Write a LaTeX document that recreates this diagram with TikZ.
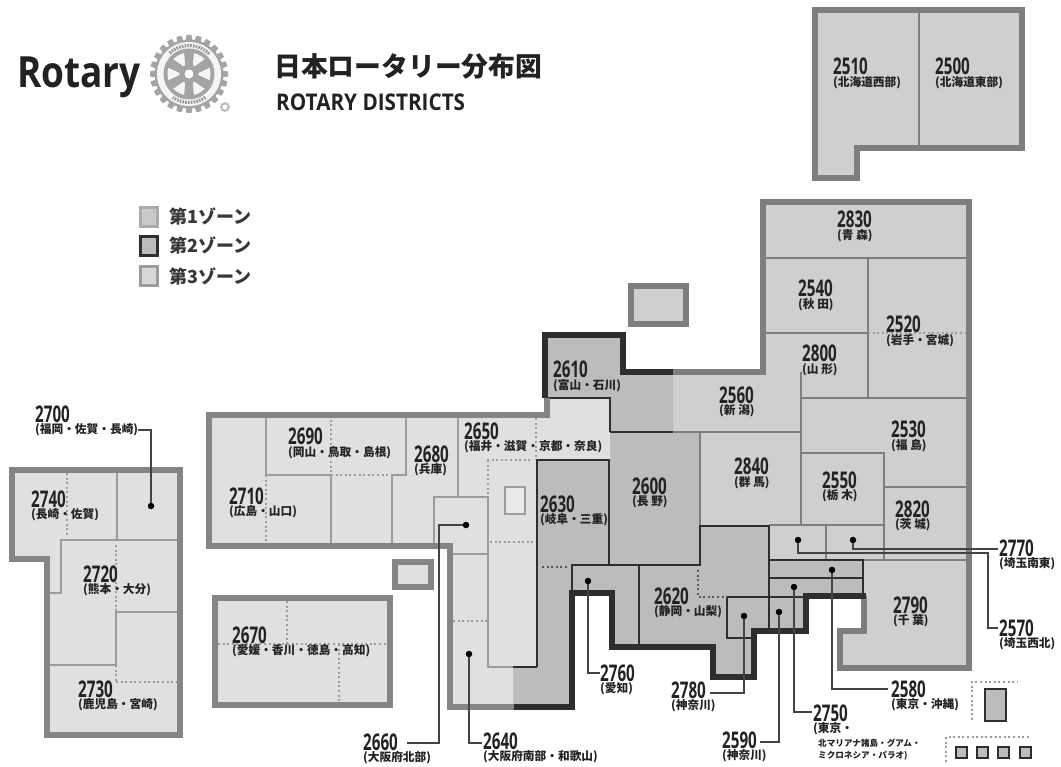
\documentclass[tikz,border=0pt]{standalone}
\usepackage{fontspec}
\newfontfamily\cjk{Noto Sans CJK JP}
\newfontfamily\numf[FakeStretch=0.66]{Open Sans}
\newfontfamily\logof[FakeStretch=0.86]{Open Sans}
\newfontfamily\headf[FakeStretch=0.9]{Open Sans}
\definecolor{zoneA}{HTML}{CFCFCF}
\definecolor{zoneB}{HTML}{BCBCBC}
\definecolor{zoneC}{HTML}{E0E0E0}
\definecolor{lineA}{HTML}{7E7E7E}
\definecolor{lineB}{HTML}{2E2E2E}
\definecolor{lineC}{HTML}{9C9C9C}
\definecolor{inkc}{HTML}{222222}
\definecolor{gearc}{HTML}{A4A4A4}
\tikzset{
  numlab/.style={font=\numf\bfseries\fontsize{23}{23}\selectfont,anchor=base west,inner sep=0pt,text=inkc},
  sublab/.style={font=\cjk\bfseries\fontsize{11.7}{12}\selectfont,anchor=base west,inner sep=0pt,text=inkc},
  tinylab/.style={font=\cjk\bfseries\fontsize{8.6}{9}\selectfont,anchor=base west,inner sep=0pt,text=inkc},
  thickA/.style={draw=lineA,line width=5.5pt,line join=miter},
  thickC/.style={draw=lineC!85!black,line width=5.5pt,line join=miter},
  thickB/.style={draw=lineB,line width=5.5pt,line join=miter},
  thinA/.style={draw=lineA,line width=2pt},
  thinB/.style={draw=lineB,line width=2pt},
  thinC/.style={draw=lineC,line width=2pt},
  dotC/.style={draw=lineC,line width=1.8pt,dash pattern=on 2pt off 2.6pt},
  dotB/.style={draw=lineB!80,line width=1.8pt,dash pattern=on 2pt off 2.6pt},
  leader/.style={draw=inkc!85,line width=1.3pt},
  pin/.style={circle,fill=black,inner sep=0pt,minimum size=6.5pt},
  legbox/.style={minimum width=17pt,minimum height=19pt,inner sep=0pt,line width=3pt},
  legtext/.style={font=\cjk\bfseries\fontsize{18}{18}\selectfont,anchor=west,inner sep=0pt,text=inkc!90},
  tinybox/.style={draw=lineB,fill=zoneB,line width=2pt,minimum size=11pt,inner sep=0pt},
}
\newcommand{\distlab}[4]{%
  \node[numlab] (n#3) at (#1,#2) {#3};
  \node[sublab] (s#3) at (#1,#2+11.5) {#4};}
\begin{document}
\begin{tikzpicture}[x=1pt,y=-1pt]
\useasboundingbox (0,0) rectangle (1061,767);
\fill[white] (0,0) rectangle (1061,767);

% ---- fills
\fill[zoneA] (815,10)--(1022,10)--(1022,148)--(857,148)--(857,178)--(815,178)--cycle;
\fill[zoneA] (763,202)--(969,202)--(969,668)--(840,668)--(840,631)--(863,631)--(863,560)--(769,560)--(769,526)--(700,526)--(700,432)--(673,432)--(673,372)--(763,372)--cycle;
\fill[zoneB] (545,335)--(623,335)--(623,372)--(673,372)--(673,432)--(700,432)--(700,526)--(769,526)--(769,560)--(863,560)--(863,596)--(806,596)--(806,631)--(754,631)--(754,677)--(713,677)--(713,647)--(612,647)--(612,593)--(572,593)--(572,707)--(513,707)--(513,667)--(537,667)--(537,460)--(610,460)--(610,398)--(545,398)--cycle;
\fill[zoneC] (210,415)--(547,415)--(547,398)--(610,398)--(610,460)--(537,460)--(537,667)--(513,667)--(513,707)--(450,707)--(450,546)--(210,546)--cycle;
\fill[zoneC] (12,470)--(180,470)--(180,735)--(47,735)--(47,559)--(12,559)--cycle;
\fill[zoneC] (215,598) rectangle (390,705);
\fill[zoneC] (395,562) rectangle (431,587);
\fill[zoneA] (631,286) rectangle (686,324);

% ---- thin lines zone 1
\draw[thinA] (919,10)--(919,148);
\draw[thinA] (763,258)--(969,258);
\draw[thinA] (868,258)--(868,398);
\draw[thinA] (763,333)--(868,333);
\draw[dotC] (868,333)--(967,333);
\draw[thinA] (801,372)--(801,525);
\draw[thinA] (801,398)--(969,398);
\draw[thinA] (673,432)--(801,432);
\draw[thinA] (700,432)--(700,526);
\draw[thinA] (801,453)--(884,453)--(884,560);
\draw[thinA] (884,487)--(969,487);
\draw[thinA] (769,525)--(884,525);
\draw[thinA] (826,525)--(826,560);
\draw[thinA] (863,560)--(969,560);

% ---- thin lines zone 3
\draw[thinC] (266,415)--(266,475)--(331,475)--(331,546);
\draw[dotC] (331,415)--(331,475);
\draw[dotC] (331,475)--(390,475);
\draw[thinC] (392,546)--(392,475)--(406,475)--(406,415);
\draw[dotC] (266,475)--(266,546);
\draw[thinC] (458,415)--(458,497);
\draw[thinC] (434,546)--(434,497)--(488,497)--(488,667)--(513,667);
\draw[thinC] (453,554)--(488,554);
\draw[dotC] (536,418)--(536,460);
\draw[dotC] (487,460)--(533,460);
\draw[dotC] (488,460)--(488,497);
\draw[dotC] (490,542)--(535,542);
\draw[dotC] (453,621)--(487,621);
\draw[draw=lineC,fill=zoneC!70!white,line width=1.6pt] (505,487) rectangle (525,514);
% Kyushu / Shikoku interior
\draw[thinC] (117,470)--(117,540);
\draw[thinC] (180,540)--(61,540)--(61,593)--(47,593);
\draw[dotC] (67,473)--(67,537);
\draw[dotC] (116,545)--(116,611);
\draw[thinC] (180,612)--(116,612)--(116,665)--(47,665);
\draw[dotC] (116,665)--(116,682);
\draw[dotC] (116,682)--(178,682);
\draw[dotC] (287,601)--(287,644);
\draw[dotC] (218,644)--(388,644);
\draw[dotC] (339,644)--(339,703);

% ---- thin lines zone 2
\draw[thinB] (545,398)--(610,398)--(610,432);
\draw[thinB] (610,432)--(673,432);
\draw[thinB] (537,667)--(537,460)--(609,460)--(609,565);
\draw[thinB] (513,667)--(537,667);
\draw[thinB] (572,593)--(572,565)--(700,565)--(700,526)--(769,526)--(769,631);
\draw[thinB] (639,565)--(639,647);
\draw[thinB] (769,560)--(863,560)--(863,596);
\draw[thinB] (769,578)--(863,578);
\draw[thinB] (806,597)--(727,597)--(727,638)--(754,638);
\draw[dotB] (542,567)--(568,567);
\draw[dotB] (698,570)--(698,597)--(727,597);

% ---- thick outlines
\draw[thickA] (815,10)--(1022,10)--(1022,148)--(857,148)--(857,178)--(815,178)--cycle;
\draw[thickA] (673,372)--(763,372)--(763,202)--(969,202)--(969,668)--(840,668)--(840,631)--(864,631)--(864,596);
\draw[thickA] (631,286) rectangle (686,324);
\draw[thickC] (547,398)--(547,415)--(209,415)--(209,546)--(450,546)--(450,707)--(514,707);
\draw[thickC] (12,470)--(180,470)--(180,735)--(47,735)--(47,559)--(12,559)--cycle;
\draw[thickC] (215,598) rectangle (390,705);
\draw[thickC] (395,562) rectangle (431,587);
\draw[thickB] (545,398)--(545,335)--(623,335)--(623,372)--(673,372);
\draw[thickB] (514,707)--(572,707)--(572,593)--(612,593)--(612,647)--(713,647)--(713,677)--(754,677)--(754,631)--(806,631)--(806,596)--(866,596);

% ---- logo
\node[font=\logof\bfseries\fontsize{43}{43}\selectfont,anchor=base west,inner sep=0pt,text=inkc] (rotary) at (17,88) {Rotary};
\begin{scope}[shift={(189,74)}]
  \foreach \a in {0,15,...,345} {
    \fill[gearc,rotate=\a] (-2.6,-39)--(2.6,-39)--(3.4,-32)--(-3.4,-32)--cycle;
  }
  \fill[gearc] (0,0) circle (34.5);
  \fill[white!92!gray] (0,0) circle (32);
  \draw[gearc!90!black,line width=3.2pt,dash pattern=on 1.6pt off 1.2pt] (-45:28.5) arc[start angle=-45,end angle=-135,radius=28.5];
  \draw[gearc!90!black,line width=3.2pt,dash pattern=on 1.6pt off 1.2pt] (55:28.5) arc[start angle=55,end angle=125,radius=28.5];
  \fill[gearc] (0,0) circle (25.5);
  \fill[white!92!gray] (0,0) circle (21.5);
  \foreach \a in {30,90,...,330} {
    \fill[gearc,rotate=\a] (0,-3)--(23,-5)--(23,5)--(0,3)--cycle;
  }
  \fill[gearc] (0,0) circle (9.5);
  \fill[white] (0,0) circle (4.5);
\end{scope}
\fill[gearc!70!white] (225,107) circle (5);
\fill[white] (225,107) circle (2.4);

% ---- title
\node[font=\cjk\bfseries\fontsize{26.8}{27}\selectfont,anchor=west,inner sep=0pt,text=inkc] (title) at (274,66) {日本ロータリー分布図};
\node[font=\headf\bfseries\fontsize{23}{23}\selectfont,anchor=base west,inner sep=0pt,text=inkc] (subtitle) at (276,111) {ROTARY DISTRICTS};

% ---- legend
\node[legbox,draw=lineC!85,fill=zoneB!80!white] (leg1) at (149,217) {};
\node[legbox,draw=lineB,fill=zoneB] (leg2) at (149,246.5) {};
\node[legbox,draw=lineC,fill=zoneC!92!gray] (leg3) at (149,276) {};
\node[legtext] (legt1) at (169,216) {第1ゾーン};
\node[legtext] (legt2) at (169,245) {第2ゾーン};
\node[legtext] (legt3) at (169,276) {第3ゾーン};

% ---- insets
\draw[dotC] (972,720)--(972,682)--(1018,682);
\node[draw=lineB,fill=zoneB,line width=2pt,minimum width=21pt,minimum height=32pt,inner sep=0pt] (okin) at (995,704.5) {};
\draw[dotC] (946,762)--(946,737)--(1030,737);
\node[tinybox] (sq1) at (961,752) {};
\node[tinybox] (sq2) at (982,752) {};
\node[tinybox] (sq3) at (1003,752) {};
\node[tinybox] (sq4) at (1025,752) {};

% ---- labels
\distlab{833}{75}{2510}{(北海道西部)}
\distlab{935}{75}{2500}{(北海道東部)}
\distlab{837}{228}{2830}{(青 森)}
\distlab{798}{297}{2540}{(秋 田)}
\distlab{886}{333}{2520}{(岩手・宮城)}
\distlab{802}{362}{2800}{(山 形)}
\distlab{719}{403}{2560}{(新 潟)}
\distlab{891}{438}{2530}{(福 島)}
\distlab{734}{475}{2840}{(群 馬)}
\distlab{822}{488}{2550}{(栃 木)}
\distlab{895}{517}{2820}{(茨 城)}
\distlab{553}{378}{2610}{(富山・石川)}
\distlab{632}{494}{2600}{(長 野)}
\distlab{540}{512}{2630}{(岐阜・三重)}
\distlab{464}{439}{2650}{(福井・滋賀・京都・奈良)}
\distlab{414}{462}{2680}{(兵庫)}
\distlab{288}{445}{2690}{(岡山・鳥取・島根)}
\distlab{229}{504}{2710}{(広島・山口)}
\distlab{232}{643}{2670}{(愛媛・香川・徳島・高知)}
\distlab{35}{422}{2700}{(福岡・佐賀・長崎)}
\distlab{31}{507}{2740}{(長崎・佐賀)}
\distlab{83}{582}{2720}{(熊本・大分)}
\distlab{78}{697}{2730}{(鹿児島・宮崎)}
\distlab{363}{750}{2660}{(大阪府北部)}
\distlab{483}{749}{2640}{(大阪府南部・和歌山)}
\distlab{600}{681}{2760}{(愛知)}
\distlab{671}{698}{2780}{(神奈川)}
\distlab{654}{604}{2620}{(静岡・山梨)}
\distlab{893}{613}{2790}{(千 葉)}
\distlab{999}{556}{2770}{(埼玉南東)}
\distlab{999}{636}{2570}{(埼玉西北)}
\distlab{891}{697}{2580}{(東京・沖縄)}
\distlab{813}{721}{2750}{(東京・}
\distlab{722}{748}{2590}{(神奈川)}
\node[tinylab] (s2750b) at (818,746) {北マリアナ諸島・グアム・};
\node[tinylab] (s2750c) at (818,758) {ミクロネシア・パラオ)};

% ---- pins and leaders
\node[pin] (p2770) at (853,540) {};
\node[pin] (p2570) at (798,540) {};
\node[pin] (p2580) at (832,570) {};
\node[pin] (p2750) at (794,587) {};
\node[pin] (p2590) at (779,612) {};
\node[pin] (p2780) at (744,616) {};
\node[pin] (p2760) at (588,581) {};
\node[pin] (p2640) at (469,654) {};
\node[pin] (p2660) at (466,525) {};
\node[pin] (p2700) at (151,506) {};
\coordinate (e2770) at (998,549);
\coordinate (e2570a) at (988,553);
\coordinate (e2570) at (998,628);
\coordinate (e2580) at (888,689);
\coordinate (e2750) at (812,712);
\coordinate (e2590) at (760,742);
\coordinate (e2780) at (710,693);
\coordinate (e2760) at (600,673);
\coordinate (e2640) at (482,743);
\coordinate (e2660a) at (439,525);
\coordinate (e2660) at (407,743);
\coordinate (e2700) at (138,430);
\draw[leader] (p2770) |- (e2770);
\draw[leader] (p2570) |- (e2570a) |- (e2570);
\draw[leader] (p2580) |- (e2580);
\draw[leader] (p2750) |- (e2750);
\draw[leader] (p2590) |- (e2590);
\draw[leader] (p2780) |- (e2780);
\draw[leader] (p2760) |- (e2760);
\draw[leader] (p2640) |- (e2640);
\draw[leader] (p2660) -- (e2660a) |- (e2660);
\draw[leader] (p2700) |- (e2700);
\end{tikzpicture}
\end{document}
